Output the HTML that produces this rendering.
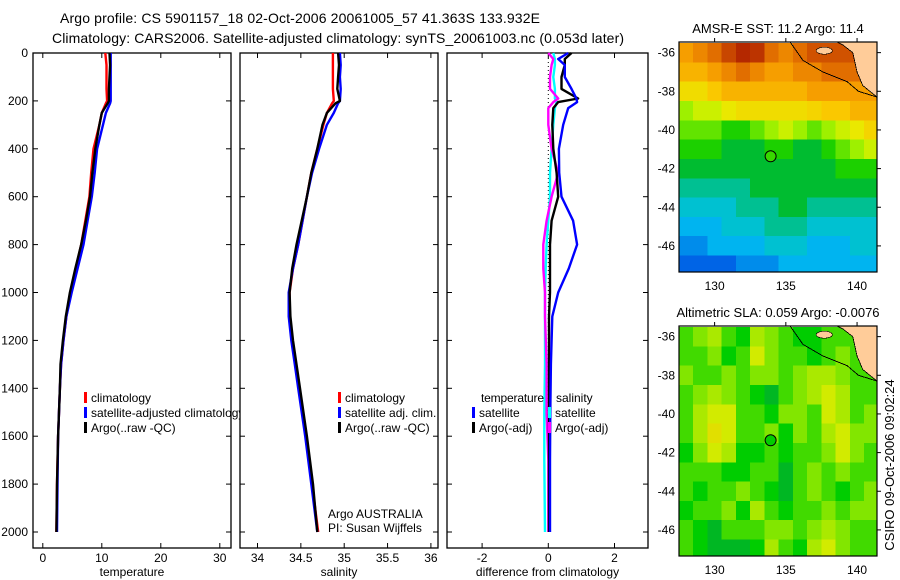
<!DOCTYPE html>
<html><head><meta charset="utf-8"><style>
html,body{margin:0;padding:0;background:#fff;}
svg{display:block;font-family:"Liberation Sans",sans-serif;}
</style></head><body>
<svg id="fig" width="900" height="580" viewBox="0 0 900 580" xmlns="http://www.w3.org/2000/svg">
<rect width="900" height="580" fill="#fff"/>
<text x="60" y="23" font-size="14" textLength="480">Argo profile: CS 5901157_18 02-Oct-2006 20061005_57 41.363S 133.932E</text>
<text x="52" y="43" font-size="14" textLength="572">Climatology: CARS2006. Satellite-adjusted climatology: synTS_20061003.nc (0.053d later)</text>
<g id="g1"></g>
<g id="g2"></g>
<g id="g3"></g>
<g id="m1"></g>
<g id="m2"></g>
<text x="0" y="0" font-size="13" transform="translate(894,465) rotate(-90)" text-anchor="middle">CSIRO 09-Oct-2006 09:02:24</text>
</svg>
<script>
// ---- profile data ----
const depthT = [0,50,100,150,200,210,250,300,400,500,600,700,800,900,1000,1100,1200,1300,1400,1600,1800,2000];
const tempClim = [10.6,10.8,10.8,10.8,10.9,10.7,10.0,9.6,8.6,8.2,7.9,7.2,6.5,5.6,4.7,4.0,3.5,3.1,2.9,2.6,2.4,2.3];
const tempSat  = [11.5,11.5,11.5,11.5,11.5,11.4,10.7,10.2,9.2,8.8,8.3,7.6,6.9,5.9,4.9,4.0,3.5,3.1,2.9,2.6,2.5,2.4];
const tempArgo = [11.3,11.4,11.3,11.2,11.2,11.0,10.0,9.6,8.9,8.4,8.0,7.3,6.5,5.5,4.6,3.9,3.4,3.0,2.9,2.6,2.4,2.3];
const salClim = [34.87,34.87,34.87,34.87,34.88,34.86,34.80,34.76,34.69,34.62,34.57,34.52,34.47,34.41,34.37,34.37,34.40,34.44,34.48,34.56,34.63,34.70];
const salSat  = [34.95,34.96,34.95,34.96,34.95,34.93,34.88,34.80,34.71,34.63,34.57,34.52,34.47,34.41,34.36,34.36,34.39,34.43,34.47,34.55,34.62,34.69];
const salArgo = [34.93,34.94,34.93,34.92,34.95,34.90,34.80,34.75,34.69,34.62,34.57,34.51,34.45,34.40,34.37,34.38,34.41,34.45,34.49,34.57,34.64,34.69];
const depthD = [0,25,50,100,150,190,205,230,300,400,500,600,700,800,900,1000,1100,1300,1500,1700,2000];
const dTempSat  = [0.6,0.3,0.5,0.5,0.7,0.85,0.87,0.6,0.45,0.32,0.33,0.4,0.75,0.87,0.62,0.3,0.12,0.08,0.06,0.05,0.05];
const dTempArgo = [0.7,0.5,0.5,0.4,0.4,0.9,0.3,0.15,0.12,0.15,0.25,0.3,0.1,0.05,0.05,0.05,0.02,0.02,0.02,0.02,0.02];
const dSalSat   = [0.15,0.2,0.2,0.15,0.2,0.2,0.25,0.2,0.15,0.1,0.05,0.05,0.0,-0.05,-0.08,-0.1,-0.1,-0.1,-0.12,-0.12,-0.1];
const dSalArgo  = [0.0,0.15,0.1,0.05,0.05,0.3,0.15,0.0,0.0,0.1,0.3,0.1,-0.05,-0.15,-0.15,-0.1,-0.1,-0.05,-0.05,0.0,0.0];
const depthTicks = [0,200,400,600,800,1000,1200,1400,1600,1800,2000];
const tTicks = [0,10,20,30];
const sTicks = ["34","34.5","35","35.5","36"];
const dTicks = ["-2","0","2"];
// ---- map data ----
const mapLons = [128,129,130,131,132,133,134,135,136,137,138,139,140,141];
const mapLats = [-36,-37,-38,-39,-40,-41,-42,-43,-44,-45,-46,-47];
const lonTicks = [130,135,140];
const latTicks = [-36,-38,-40,-42,-44,-46];
const sst = [
[15.3,15.8,16.3,17,17.5,17.3,16.3,15.8,16.3,16.8,16.8,16.8,16.8,16.8],
[14.8,14.8,15.3,15.8,16.3,15.8,15.3,15.3,15.8,15.8,16.3,16.3,16.3,16.3],
[13.8,13.8,14.3,14.8,14.8,14.8,14.8,14.8,14.8,15.3,15.3,15.3,15.3,15.3],
[12.5,13,13,13.5,13.8,13.8,13.8,13.8,13.8,14,14.3,14.3,14.8,14.8],
[12,12,12,11.5,11.5,12,12.5,13,12.5,12,12.5,13,13.5,14],
[11.5,11.5,11.5,11,11,11,11.5,11.5,11,11,11.5,12,12.5,13],
[11,11,11,11,11,11,11,11,11,11,11,11.5,11.5,11.5],
[10.5,10.5,10.5,10.5,10.5,11,11,11,11,11,11,11,11,11],
[10,10,10,10,10.5,10.5,10.5,11,11,10.5,10.5,10.5,10.5,10.5],
[9.5,9.5,9.5,10,10,10,10.5,10.5,10.5,10,10,10,10,10],
[9,9,9.5,9.5,9.5,9.5,10,10,10,9.5,9.5,9.5,10,10],
[8.5,8.5,8.5,8.5,9,9,9,9.5,9.5,9.5,9.5,9.5,9.5,9.5]];
const sla = [
[0,0.05,0.1,0,-0.05,0.1,0.05,0,-0.05,-0.05,0,0,0,0],
[0,0,0.05,-0.05,0,0.15,0.05,0,0,-0.05,0,0.05,0,0],
[0.05,0,0,0.05,0,0.05,0.05,0,0.05,0.1,0.1,0.05,0,0],
[0,0.05,0.1,0.05,0,-0.05,-0.1,0,0.05,0.1,0.15,0.1,0,0],
[0,0.1,0.15,0.15,0,0,-0.05,0.05,0.05,0,0.15,0.1,0,0.05],
[0,0.1,0.2,0.15,0,0,0.05,-0.05,0.05,0,0.1,0.15,0.05,0.05],
[-0.05,0.05,0.15,0.1,-0.05,-0.05,0,-0.05,0,0,0.05,0.15,0.05,0],
[0,0,0,-0.05,-0.05,0,0,-0.1,0,0.05,0,0.05,0,0],
[0,-0.05,0,0,0.05,0,-0.05,-0.1,0,0.05,0,-0.05,0,0.05],
[-0.05,0,0,0.05,-0.05,0.1,0,-0.05,0,0,0.05,0,0.05,0.05],
[0,-0.05,-0.1,0,0,0,0.05,0.05,0,0.05,0.1,0.05,0,0],
[0,-0.05,-0.1,-0.1,-0.1,-0.05,0.1,0,-0.05,0.1,0.15,0.05,0,0]];
const argoLon = 133.932, argoLat = -41.363;

const NS="http://www.w3.org/2000/svg";
function mk(parent,tag,attrs,text){const e=document.createElementNS(NS,tag);for(const k in attrs)e.setAttribute(k,attrs[k]);if(text!==undefined)e.textContent=text;parent.appendChild(e);return e;}
const Y0=53,Y1=548;
const yD=d=>53+d*0.2395;

function panel(g,x0,x1,xf,xticks,xlab){
  mk(g,'rect',{x:x0,y:Y0,width:x1-x0,height:Y1-Y0,fill:'#fff',stroke:'#000','stroke-width':1.3});
  xticks.forEach(t=>{const x=xf(+t);
    mk(g,'line',{x1:x,x2:x,y1:Y0,y2:Y0+5,stroke:'#000'});
    mk(g,'line',{x1:x,x2:x,y1:Y1,y2:Y1-5,stroke:'#000'});
    const l=mk(g,'text',{x:x,y:562,'font-size':12,'text-anchor':'middle'},String(t));
    
    
  });
  depthTicks.forEach(d=>{const y=yD(d);
    mk(g,'line',{x1:x0,x2:x0+5,y1:y,y2:y,stroke:'#000'});
    mk(g,'line',{x1:x1,x2:x1-5,y1:y,y2:y,stroke:'#000'});
  });
  const t=mk(g,'text',{x:(x0+x1)/2,y:576,'font-size':12,'text-anchor':'middle'},xlab);
  
  
}
function line(g,xs,ds,xf,color,name,w){
  const p=xs.map((v,i)=>xf(v).toFixed(1)+','+yD(ds[i]).toFixed(1)).join(' ');
  const e=mk(g,'polyline',{points:p,fill:'none',stroke:color,'stroke-width':w||2.4,'stroke-linejoin':'round'});
  
  
}
function legend(g,x,y,color,label){
  mk(g,'rect',{x:x,y:y-10,width:3,height:11,fill:color});
  const t=mk(g,'text',{x:x+7,y:y,'font-size':12},label);
  
  
}
const svg=document.getElementById('fig');
depthTicks.forEach(d=>{const t=mk(svg,'text',{x:28,y:yD(d)+4,'font-size':12,'text-anchor':'end'},String(d));
  
  });

const g1=document.getElementById('g1');
const xT=v=>42.8+v*5.9;
panel(g1,33,231,xT,tTicks,'temperature');
line(g1,tempClim,depthT,xT,'#f00','climatology-temp-line');
line(g1,tempSat,depthT,xT,'#00f','satellite-temp-line');
line(g1,tempArgo,depthT,xT,'#000','argo-temp-line');
legend(g1,84,402,'#f00','climatology');
legend(g1,84,417,'#00f','satellite-adjusted climatology');
legend(g1,84,432,'#000','Argo(..raw -QC)');
const g2=document.getElementById('g2');
const xS=v=>257.5+(v-34)*86.7;
panel(g2,240,438,xS,sTicks,'salinity');
line(g2,salClim,depthT,xS,'#f00','climatology-sal-line');
line(g2,salSat,depthT,xS,'#00f','satellite-sal-line');
line(g2,salArgo,depthT,xS,'#000','argo-sal-line');
legend(g2,338,402,'#f00','climatology');
legend(g2,338,417,'#00f','satellite adj. clim.');
legend(g2,338,432,'#000','Argo(..raw -QC)');
mk(g2,'text',{x:328,y:518,'font-size':12},'Argo AUSTRALIA');
mk(g2,'text',{x:328,y:532,'font-size':12},'PI: Susan Wijffels');
const g3=document.getElementById('g3');
const xDf=v=>548.3+v*33.1;
panel(g3,447,648,xDf,dTicks,'difference from climatology');
mk(g3,'line',{x1:xDf(0),x2:xDf(0),y1:Y0+5,y2:yD(2000),stroke:'#000','stroke-dasharray':'1,3'});
line(g3,dSalSat,depthD,xDf,'#0ff','satellite-sal-diff-line');
line(g3,dSalArgo,depthD,xDf,'#f0f','argo-sal-diff-line');
line(g3,dTempArgo,depthD,xDf,'#000','argo-temp-diff-line');
line(g3,dTempSat,depthD,xDf,'#00f','satellite-temp-diff-line');
mk(g3,'text',{x:481,y:402,'font-size':12,textLength:63},'temperature');
mk(g3,'text',{x:556,y:402,'font-size':12},'salinity');
legend(g3,472,417,'#00f','satellite');
legend(g3,472,432,'#000','Argo(-adj)');
legend(g3,548,417,'#0ff','satellite');
legend(g3,548,432,'#f0f','Argo(-adj)');

function interp(stops,v){
  if(v<=stops[0][0])return stops[0][1];
  for(let i=1;i<stops.length;i++){if(v<=stops[i][0]){const a=stops[i-1],b=stops[i],t=(v-a[0])/(b[0]-a[0]);
    return a[1].map((c,k)=>Math.round(c+(b[1][k]-c)*t));}}
  return stops[stops.length-1][1];
}
const sstStops=[[8.5,[0,100,230]],[9.5,[0,180,240]],[10.3,[0,200,190]],[10.8,[0,180,80]],[11.3,[0,200,0]],[12.3,[140,240,0]],[13.3,[230,240,0]],[14.3,[250,200,0]],[15.5,[245,150,0]],[16.5,[220,100,0]],[17.5,[180,40,0]],[18,[160,0,0]]];
const slaStops=[[-0.15,[0,160,70]],[-0.05,[0,205,0]],[0.05,[130,230,0]],[0.15,[210,235,0]],[0.25,[240,210,0]]];
function sc(stops,v){return 'rgb('+interp(stops,v).join(',')+')';}
function map(id,top,vals,stops,title,markerVal){
  const g=document.getElementById(id);
  const L=679,R=877,B=top+230;
  const lonMin=127.5,lonMax=141.4,latTop=-35.45,latBot=-47.35;
  const X=lon=>L+(lon-lonMin)/(lonMax-lonMin)*(R-L);
  const Yl=lat=>top+(latTop-lat)/(latTop-latBot)*(B-top);
  const cp=mk(g,'clipPath',{id:id+'c'});mk(cp,'rect',{x:L,y:top,width:R-L,height:B-top});
  const cells=mk(g,'g',{'clip-path':'url(#'+id+'c)','shape-rendering':'crispEdges'});
  mapLats.forEach((lat,r)=>mapLons.forEach((lon,c)=>{
    const x0=X(lon-0.5),x1=X(lon+0.5),y0=Yl(lat+0.5),y1=Yl(lat-0.5);
    const e=mk(cells,'rect',{x:x0,y:y0,width:x1-x0+0.5,height:y1-y0+0.5,fill:sc(stops,vals[r][c])});
    
    
  }));
  const land=mk(cells,'polygon',{points:[[X(138.6),top],[R,top],[R,Yl(-38.3)],[X(140.4),Yl(-37.7)],[X(140.0),Yl(-37.0)],[X(139.7),Yl(-36.0)],[X(139.0),Yl(-35.6)]].map(p=>p.join(',')).join(' '),fill:'#fc9',stroke:'#000','stroke-width':0.8});
  
  
  mk(cells,'ellipse',{cx:X(137.7),cy:Yl(-35.9),rx:8,ry:3.5,fill:'#fc9',stroke:'#000','stroke-width':0.6});
  mk(cells,'polyline',{points:[[X(135.3),top],[X(136.2),Yl(-36.4)],[X(137.6),Yl(-37.0)],[X(139.3),Yl(-37.5)],[X(140.1),Yl(-38.0)],[R,Yl(-38.3)]].map(p=>p.join(',')).join(' '),fill:'none',stroke:'#000','stroke-width':0.9});
  mk(g,'rect',{x:L,y:top,width:R-L,height:B-top,fill:'none',stroke:'#000','stroke-width':1.2});
  lonTicks.forEach(v=>{const x=X(v);
    mk(g,'line',{x1:x,x2:x,y1:top,y2:top-4,stroke:'#000'});
    const t=mk(g,'text',{x:x,y:B+18,'font-size':12,'text-anchor':'middle'},String(v));
    
    });
  latTicks.forEach(v=>{const y=Yl(v);
    mk(g,'line',{x1:R,x2:R+4,y1:y,y2:y,stroke:'#000'});
    const t=mk(g,'text',{x:675,y:y+4,'font-size':12,'text-anchor':'end'},String(v));
    
    });
  const m=mk(g,'circle',{cx:X(argoLon),cy:Yl(argoLat),r:5.5,fill:sc(stops,markerVal),stroke:'#000','stroke-width':1});
  
  
  const t=mk(g,'text',{x:(L+R)/2,y:top-9,'font-size':13,'text-anchor':'middle'},title);
  
  
}
map('m1',42,sst,sstStops,'AMSR-E SST: 11.2 Argo: 11.4',11.7);
map('m2',326,sla,slaStops,'Altimetric SLA: 0.059 Argo: -0.0076',-0.05);
</script>
</body></html>
